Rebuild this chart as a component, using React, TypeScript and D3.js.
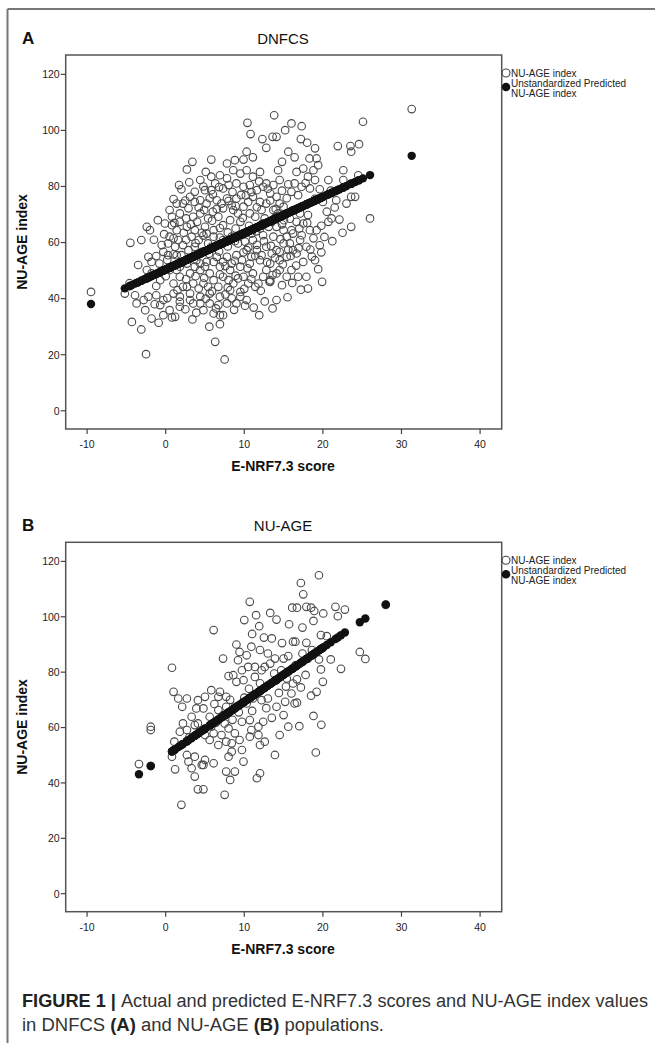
import React from "react";
import * as d3 from "d3";

// E-NRF7.3 score vs NU-AGE index
const dnfcsActual: [number, number][] = [
  [13.8,105.4],[10.4,102.7],[10.8,98.7],[12.3,96.9],[13.6,97.7],[14.1,97.7],[12.8,93.8],[15.2,100.1],[15.6,92.4],
  [10.3,92.4],[11.1,90.4],[9.9,89.6],[8.8,89.4],[7.8,88.2],[5.8,89.6],[3.4,88.8],[2.7,86.1],[1.7,80.5],
  [4.4,82.3],[5.1,85.2],[5.8,83.5],[6.3,81.1],[6.9,84.0],[7.8,82.9],[8.6,85.8],[9.5,84.6],[10.3,85.8],
  [11.1,83.5],[12.0,85.2],[12.8,81.1],[13.7,80.5],[14.5,82.3],[14.8,88.8],[14.3,85.8],[3.7,78.1],[5.0,78.7],
  [5.8,78.7],[7.3,79.3],[8.0,80.5],[9.0,81.1],[9.9,79.9],[10.7,80.5],[11.6,78.7],[12.4,79.9],[13.3,77.5],
  [14.1,76.3],[3.1,76.3],[4.4,75.1],[2.2,73.9],[2.9,72.2],[3.7,74.5],[5.2,73.9],[6.5,75.1],[7.8,75.7],
  [9.0,75.7],[11.1,76.3],[12.0,74.5],[12.8,73.9],[14.5,73.9],[0.5,71.6],[0.8,69.2],[1.8,70.4],[3.5,69.2],
  [4.4,70.4],[5.4,68.6],[6.7,69.2],[7.3,72.2],[8.6,71.6],[9.9,72.8],[10.7,70.4],[12.2,71.6],[13.7,71.6],
  [15.0,72.8],[-2.4,65.6],[-2.0,64.4],[-3.1,60.9],[-4.5,59.9],[-0.1,66.8],[0.8,66.2],[1.4,64.4],[2.7,65.6],
  [3.7,64.4],[5.0,65.6],[6.1,64.4],[7.3,66.2],[8.2,68.0],[9.5,67.4],[-0.5,59.1],[0.5,62.1],[1.6,60.9],
  [2.2,59.1],[3.3,62.1],[4.2,60.9],[5.2,63.2],[6.1,62.1],[-2.2,54.9],[-1.2,55.2],[-1.8,53.1],[-0.3,56.7],
  [0.3,55.5],[1.4,55.5],[-2.4,50.2],[-1.8,49.0],[-0.7,46.6],[0.5,50.2],[1.8,51.4],[2.7,52.5],[3.9,53.7],
  [5.2,53.1],[6.5,54.9],[7.8,54.9],[9.0,55.5],[10.3,57.3],[11.6,57.3],[12.8,58.5],[14.1,57.3],[15.0,59.7],
  [15.4,62.1],[13.7,62.1],[12.4,62.6],[11.1,60.9],[1.8,47.8],[3.1,49.0],[4.4,50.2],[5.6,49.0],[6.9,51.4],
  [8.2,50.2],[9.5,51.4],[10.7,52.5],[12.0,53.7],[13.3,52.5],[14.5,53.7],[15.4,54.9],[1.0,45.4],[2.2,44.2],
  [3.5,45.4],[4.8,45.4],[6.1,46.6],[7.3,47.8],[8.6,45.4],[9.9,47.8],[11.1,49.0],[12.4,47.8],[13.3,46.0],
  [14.5,50.2],[15.4,47.8],[-5.2,41.8],[-3.9,41.2],[-2.8,39.5],[-3.7,38.3],[-2.2,40.7],[-1.2,41.2],[-0.3,39.5],
  [1.0,41.8],[1.8,40.7],[3.1,41.8],[4.4,40.7],[5.6,41.8],[6.9,40.7],[8.2,43.0],[9.5,40.7],[10.3,39.5],
  [11.4,44.2],[13.3,46.6],[-2.6,35.9],[-1.8,32.9],[-0.7,37.7],[-0.3,34.1],[0.5,35.9],[1.2,33.5],[1.8,37.1],
  [3.5,38.3],[4.8,35.9],[6.1,34.7],[6.9,34.1],[7.8,38.3],[9.0,38.3],[11.2,36.8],[11.9,34.1],[-4.3,31.7],
  [-3.1,29.0],[-0.9,31.4],[0.8,33.3],[3.4,32.6],[5.55,30.0],[6.9,30.9],[7.3,34.1],[-2.5,20.2],[6.3,24.6],
  [7.5,18.3],[14.1,39.5],[13.2,46.1],[1.4,73.9],[1.8,67.4],[2.6,68.6],[4.0,67.4],[4.9,71.6],[6.0,71.0],
  [7.1,73.9],[8.4,73.3],[9.2,70.4],[10.5,74.5],[11.4,69.2],[12.6,68.6],[13.5,67.4],[14.3,70.4],[15.05,68.0],
  [0.3,59.7],[1.2,58.5],[2.9,57.3],[3.7,58.5],[4.6,56.7],[5.4,59.7],[6.5,59.1],[7.3,60.9],[8.4,62.1],
  [9.2,59.7],[10.1,60.3],[10.9,63.2],[12.0,65.0],[13.1,65.6],[14.1,65.6],[15.0,64.4],[1.4,50.2],[2.2,53.1],
  [3.7,51.4],[5.0,51.4],[6.1,53.1],[7.3,53.1],[8.4,52.5],[9.7,53.7],[10.9,54.9],[12.2,55.5],[13.5,56.1],
  [14.5,56.7],[2.7,44.2],[4.2,43.6],[5.4,44.2],[6.7,44.2],[8.0,46.6],[9.2,47.2],[10.5,45.4],[11.8,45.4],
  [12.8,50.2],[14.1,49.0],[1.8,38.9],[3.1,39.5],[4.4,38.3],[5.6,38.3],[6.7,37.7],[8.4,40.1],[9.5,42.4],
  [16.0,102.5],[17.3,101.5],[17.2,96.9],[18.0,95.6],[19.0,93.6],[16.4,90.4],[18.3,90.0],[19.2,90.0],[19.4,87.6],
  [16.65,85.2],[17.5,86.4],[18.8,85.8],[18.1,83.5],[19.0,82.3],[20.7,82.3],[22.6,85.8],[21.9,94.4],[23.5,94.4],
  [24.6,95.1],[23.6,92.4],[25.1,103.1],[16.4,81.1],[17.3,79.9],[18.35,79.3],[16.0,78.1],[16.85,76.9],[20.0,74.5],
  [21.7,75.1],[23.0,73.9],[23.6,76.3],[24.1,76.3],[22.6,82.3],[24.5,84.0],[16.2,71.6],[17.1,70.4],[18.1,69.8],
  [16.65,67.4],[17.5,66.8],[16.0,64.4],[18.35,64.4],[19.2,64.4],[18.8,61.5],[17.1,60.9],[17.9,58.5],[16.2,57.3],
  [16.65,56.1],[17.5,53.1],[19.0,53.7],[19.4,50.5],[16.0,50.2],[16.85,47.8],[17.9,47.8],[18.1,43.6],[20.7,67.4],
  [21.1,68.6],[22.1,68.2],[23.6,65.6],[26.0,68.6],[16.2,63.2],[17.3,62.6],[15.8,59.7],
  [31.3,107.6],[-9.5,42.4],
  // dense middle of the cloud
  [2.0,79.0],[3.0,81.5],[4.8,80.0],[6.0,77.2],[6.8,79.8],[8.5,78.0],[9.6,77.0],[10.9,78.0],[11.9,81.8],
  [13.0,79.2],[14.8,78.5],[15.6,80.8],[17.8,81.2],[19.6,79.0],[21.0,78.5],[1.0,75.5],[2.5,75.0],[4.2,72.5],
  [5.6,75.8],[6.5,72.0],[8.0,74.8],[8.9,73.0],[10.2,76.8],[11.6,72.6],[13.3,75.0],[14.0,72.0],[15.4,75.8],
  [17.9,73.5],[19.0,75.6],[20.5,71.0],[21.5,72.5],[-1.0,68.0],[1.1,67.0],[2.3,63.5],[3.2,66.5],[4.6,63.5],
  [5.9,67.8],[6.9,65.2],[7.9,63.6],[8.9,65.0],[9.8,68.8],[10.6,66.0],[11.5,64.0],[12.3,66.8],[13.9,68.8],
  [14.8,66.5],[15.8,68.5],[17.0,65.0],[18.0,67.0],[19.8,66.0],[20.2,62.0],[22.5,63.5],[-1.5,61.0],[-0.2,63.0],
  [1.0,61.5],[2.6,61.0],[3.8,59.8],[4.8,62.5],[5.8,58.5],[6.9,61.8],[7.9,58.6],[8.8,60.5],[9.8,63.2],
  [10.5,58.2],[11.6,59.2],[12.5,60.5],[13.4,58.8],[14.6,61.2],[15.6,57.5],[16.9,58.0],[18.4,57.5],[19.6,59.0],
  [21.2,60.5],[-3.5,52.0],[-0.8,52.5],[0.2,53.8],[1.0,55.8],[2.0,55.5],[3.0,54.5],[4.4,52.5],[5.5,56.0],
  [6.8,56.8],[7.6,51.6],[8.8,53.5],[9.9,56.5],[10.4,50.8],[11.4,55.2],[12.9,53.0],[13.9,54.5],[14.9,52.2],
  [15.9,55.2],[16.6,51.8],[18.6,55.0],[19.8,56.5],[-4.6,45.5],[-1.2,44.5],[0.0,48.0],[1.5,43.0],[2.6,47.0],
  [3.8,48.0],[4.9,47.4],[5.9,42.6],[6.9,48.6],[7.9,44.0],[8.9,48.2],[10.0,43.5],[10.9,47.0],[12.1,42.8],
  [13.6,48.4],[14.8,44.8],[16.1,45.6],[17.2,43.2],[19.9,46.0],[-1.4,38.0],[0.2,40.2],[2.5,36.2],[3.9,35.0],
  [5.1,40.0],[6.4,36.5],[7.6,41.5],[8.7,36.0],[10.1,37.5],[12.6,39.0],[13.6,36.5],[15.5,40.5],
];

const nuageActual: [number, number][] = [
  [10.7,105.4],[10.0,98.8],[11.5,100.6],[11.9,96.6],[13.3,101.4],[14.1,99.0],[15.7,97.3],[16.1,103.3],[16.2,91.0],
  [13.5,92.2],[6.1,95.2],[0.8,81.6],[7.3,84.9],[9.4,87.3],[10.9,89.2],[12.0,88.0],[13.0,86.75],[13.9,84.9],
  [15.0,84.9],[15.6,85.8],[10.3,86.1],[9.2,84.3],[10.5,81.9],[11.35,81.9],[12.2,80.7],[9.7,80.7],[8.6,78.9],
  [8.0,78.6],[9.0,76.5],[9.9,77.1],[11.35,78.3],[12.6,81.9],[13.3,83.1],[14.7,80.7],[15.4,77.7],[16.2,75.9],
  [14.1,77.1],[1.0,72.9],[1.6,70.5],[2.1,67.5],[2.7,70.5],[4.1,69.9],[5.0,71.1],[5.8,73.5],[6.9,72.9],
  [6.7,71.1],[7.7,71.1],[3.9,66.9],[4.8,66.9],[3.3,63.9],[2.2,61.5],[4.1,61.5],[5.6,63.9],[6.7,66.3],
  [7.7,67.5],[8.8,67.5],[10.3,68.7],[11.1,70.5],[12.2,69.9],[13.0,70.5],[14.1,67.5],[15.2,69.3],[16.0,72.3],
  [16.4,68.7],[-1.9,60.3],[-1.9,59.1],[1.8,58.5],[2.7,59.1],[3.7,60.9],[5.8,60.3],[7.5,61.5],[9.7,62.1],
  [10.7,62.7],[11.8,60.3],[12.4,62.1],[10.9,59.1],[8.8,57.9],[8.0,59.7],[7.1,57.3],[6.1,57.9],[5.0,57.3],
  [5.6,55.5],[6.7,53.7],[7.7,54.9],[8.4,54.3],[9.4,55.5],[10.7,56.7],[11.8,57.3],[12.6,54.9],[12.0,53.7],
  [14.5,57.3],[15.6,60.3],[1.1,54.9],[1.1,51.9],[0.8,49.5],[2.7,50.1],[2.9,47.7],[3.7,49.5],[5.0,48.3],
  [6.1,47.1],[4.8,46.5],[3.3,45.3],[1.2,44.9],[3.7,42.3],[4.6,46.5],[8.4,51.3],[9.7,51.9],[8.0,49.5],
  [7.7,44.1],[8.8,44.1],[8.2,41.1],[9.9,47.7],[11.6,41.7],[12.0,43.5],[13.9,50.1],[-3.4,46.8],[4.1,37.7],
  [4.8,37.7],[7.5,35.7],[2.0,32.1],
  [19.5,115.0],[17.2,112.2],[17.5,108.1],[16.7,103.3],[17.9,103.6],[18.5,103.3],[18.9,102.1],[20.05,101.2],
  [21.6,103.6],[22.8,102.6],[21.9,100.2],[18.8,98.5],[17.4,96.1],[19.75,93.4],[17.9,90.6],[16.5,91.0],
  [17.4,86.75],[19.5,84.6],[21.0,84.6],[19.75,81.0],[22.3,81.2],[24.7,87.3],[25.4,84.8],[16.7,77.4],
  [17.2,74.5],[19.2,72.9],[16.7,69.0],[18.8,64.2],[19.1,51.0],[18.1,84.9],[28.0,104.3],
  [3.0,56.5],[4.3,58.5],[6.4,61.8],[7.3,64.5],[8.5,62.8],[9.3,65.5],[10.0,70.8],[11.0,66.0],[12.8,67.0],
  [13.5,63.5],[14.4,72.5],[15.3,74.8],[13.8,79.5],[12.0,76.0],[10.6,74.0],[8.2,70.0],[6.2,68.5],[15.0,64.5],
  [17.8,79.0],[18.5,71.5],[20.0,76.5],[16.5,82.5],[18.6,88.0],[20.5,93.0],[14.8,90.5],[12.5,92.5],[11.0,93.8],
  [9.0,90.0],[17.0,60.5],[19.8,61.0],
];

// regression line
const dnfcsFit = { intercept: 50.4, slope: 1.295 };
const nuageFit = { intercept: 49.8, slope: 1.952 };

const xTicks = [-10, 0, 10, 20, 30, 40];
const yTicks = [0, 20, 40, 60, 80, 100, 120];
const legendLabels = ["NU-AGE index", "Unstandardized Predicted", "NU-AGE index"];

const FONT = "'Liberation Sans', Arial, sans-serif";
const LEFT = 65.7;
const RIGHT = 501.7;

type PanelProps = {
  letter: string;
  title: string;
  top: number;
  bottom: number;
  actual: [number, number][];
  fit: { intercept: number; slope: number };
};

function Panel({ letter, title, top, bottom, actual, fit }: PanelProps) {
  const x = d3.scaleLinear().domain([-12.72, 42.75]).range([LEFT, RIGHT]);
  const y = d3.scaleLinear().domain([-6.5, 126.9]).range([bottom, top]);
  const predicted = actual.map(([v]) => [v, fit.intercept + fit.slope * v]);
  const midY = (top + bottom) / 2;

  return (
    <g fontFamily={FONT}>
      <text x={22} y={top - 11} fontSize={17} fontWeight="bold" fill="#111">{letter}</text>
      <text x={283} y={top - 11} fontSize={15} textAnchor="middle" fill="#111">{title}</text>

      {actual.map((d, i) => (
        <circle key={"a" + i} cx={x(d[0])} cy={y(d[1])} r={3.8} fill="none" stroke="#4a4a4a" strokeWidth={1.1} />
      ))}
      {predicted.map((d, i) => (
        <circle key={"p" + i} cx={x(d[0])} cy={y(d[1])} r={4.2} fill="#111" />
      ))}

      <rect x={LEFT} y={top} width={RIGHT - LEFT} height={bottom - top} fill="none" stroke="#555" strokeWidth={1.5} />

      {yTicks.map(t => (
        <g key={"y" + t}>
          <line x1={LEFT - 5} x2={LEFT} y1={y(t)} y2={y(t)} stroke="#444" strokeWidth={1.2} />
          <text x={LEFT - 6} y={y(t) + 3.8} fontSize={10.5} textAnchor="end" fill="#222">{t}</text>
        </g>
      ))}
      {xTicks.map(t => (
        <g key={"x" + t}>
          <line x1={x(t)} x2={x(t)} y1={bottom} y2={bottom + 5} stroke="#444" strokeWidth={1.2} />
          <text x={x(t)} y={bottom + 19} fontSize={10.5} textAnchor="middle" fill="#222">{t}</text>
        </g>
      ))}

      <text x={283} y={bottom + 42} fontSize={14} fontWeight="bold" textAnchor="middle" fill="#111">E-NRF7.3 score</text>
      <text transform={`translate(27,${midY}) rotate(-90)`} fontSize={14} fontWeight="bold" textAnchor="middle" fill="#111">NU-AGE index</text>

      <circle cx={506} cy={top + 18} r={4} fill="none" stroke="#444" strokeWidth={1.1} />
      <circle cx={506} cy={top + 32} r={4.3} fill="#111" />
      <text x={511} y={top + 21.5} fontSize={10} fill="#222">{legendLabels[0]}</text>
      <text x={511} y={top + 31.5} fontSize={10} fill="#222">{legendLabels[1]}</text>
      <text x={511} y={top + 41.5} fontSize={10} fill="#222">{legendLabels[2]}</text>
    </g>
  );
}

export default function App() {
  return (
    <svg width={655} height={1043} style={{ position: "absolute", left: 0, top: 0, background: "#fff" }}>
      <rect x={0} y={0} width={655} height={1043} fill="#fff" />
      <line x1={7.5} x2={655} y1={9} y2={9} stroke="#777" strokeWidth={2} />
      <line x1={7.5} x2={7.5} y1={9} y2={1043} stroke="#777" strokeWidth={2} />

      <Panel letter="A" title="DNFCS" top={55} bottom={429} actual={dnfcsActual} fit={dnfcsFit} />
      <Panel letter="B" title="NU-AGE" top={542.3} bottom={911.7} actual={nuageActual} fit={nuageFit} />

      <text x={22} y={1007} fontSize={18} fontFamily={FONT} fill="#333" textLength={626} lengthAdjust="spacingAndGlyphs">
        <tspan fontWeight="bold" fill="#222">FIGURE 1 | </tspan>
        <tspan>Actual and predicted E-NRF7.3 scores and NU-AGE index values</tspan>
      </text>
      <text x={22} y={1031} fontSize={18} fontFamily={FONT} fill="#333" textLength={362} lengthAdjust="spacingAndGlyphs">
        in DNFCS <tspan fontWeight="bold" fill="#222">(A)</tspan> and NU-AGE <tspan fontWeight="bold" fill="#222">(B)</tspan> populations.
      </text>
    </svg>
  );
}
